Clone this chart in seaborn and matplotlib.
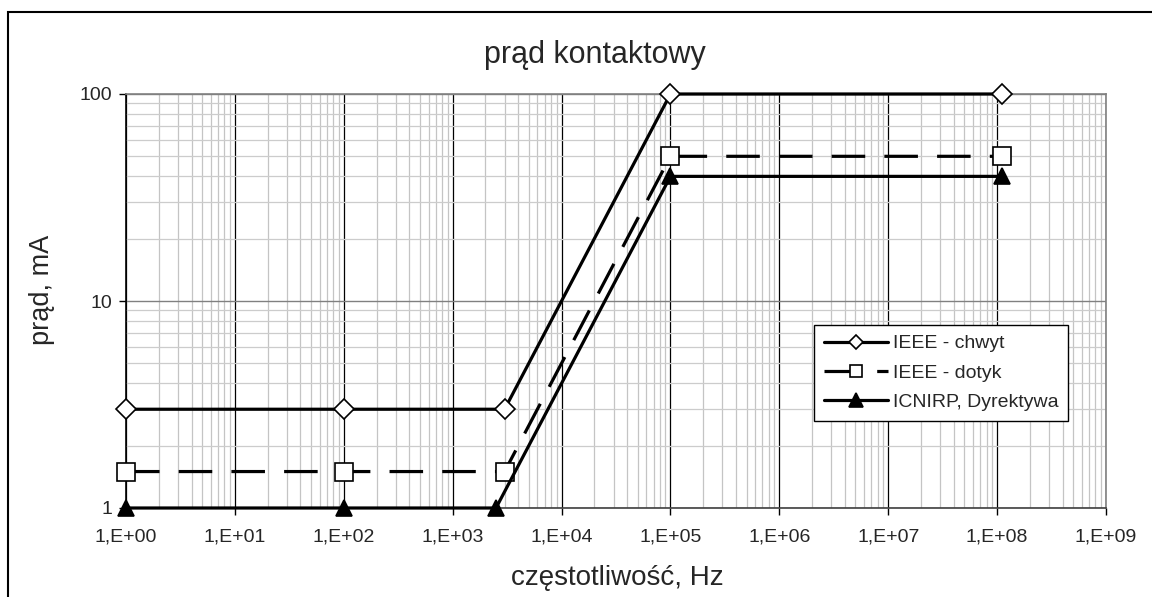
import matplotlib
matplotlib.use("Agg")
import matplotlib.pyplot as plt
import matplotlib.ticker as mticker
from matplotlib.patches import Rectangle
import pandas as pd
import seaborn as sns

# data
series_names = ["IEEE - chwyt", "IEEE - dotyk", "ICNIRP, Dyrektywa"]
freq_chwyt = [1, 100, 3000, 1e5, 1.1e8]
prad_chwyt = [3, 3, 3, 100, 100]
freq_dotyk = [1, 100, 3000, 1e5, 1.1e8]
prad_dotyk = [1.5, 1.5, 1.5, 50, 50]
freq_icnirp = [1, 100, 2500, 1e5, 1.1e8]
prad_icnirp = [1, 1, 1, 40, 40]

x_ticks = [10.0 ** k for k in range(0, 10)]
x_ticklabels = ["1,E+%02d" % k for k in range(0, 10)]
y_ticks = [1, 10, 100]
y_ticklabels = ["1", "10", "100"]

df = pd.concat([
    pd.DataFrame({"f": freq_chwyt, "I": prad_chwyt, "seria": series_names[0]}),
    pd.DataFrame({"f": freq_dotyk, "I": prad_dotyk, "seria": series_names[1]}),
    pd.DataFrame({"f": freq_icnirp, "I": prad_icnirp, "seria": series_names[2]}),
])

sns.set_style("white")
plt.rcParams["font.family"] = ["Liberation Sans", "DejaVu Sans"]

fig = plt.figure(figsize=(11.52, 5.97), dpi=100)
ax = fig.add_axes([126 / 1152, 1 - 508 / 597, (1106 - 126) / 1152, (508 - 94) / 597])

styles = {
    "IEEE - chwyt": dict(marker="D", markersize=10, markerfacecolor="white", linestyle="-"),
    "IEEE - dotyk": dict(marker="s", markersize=13, markerfacecolor="white", linestyle=(0, (10.5, 6))),
    "ICNIRP, Dyrektywa": dict(marker="^", markersize=11, markerfacecolor="black", linestyle="-"),
}
legend_marker_size = {"IEEE - chwyt": 7, "IEEE - dotyk": 8.5, "ICNIRP, Dyrektywa": 9.5}

for name in series_names:
    sub = df[df["seria"] == name]
    sns.lineplot(data=sub, x="f", y="I", ax=ax, color="black", linewidth=2.3,
                 markeredgecolor="black", markeredgewidth=1.2, label=name,
                 clip_on=False, zorder=5, **styles[name])

ax.set_xscale("log")
ax.set_yscale("log")
ax.set_xlim(1, 1e9)
ax.set_ylim(1, 100)

ax.set_xticks(x_ticks)
ax.set_xticklabels(x_ticklabels)
ax.set_yticks(y_ticks)
ax.set_yticklabels(y_ticklabels)
ax.xaxis.set_minor_locator(mticker.LogLocator(base=10, subs=range(2, 10), numticks=100))
ax.yaxis.set_minor_locator(mticker.LogLocator(base=10, subs=range(2, 10), numticks=100))
ax.xaxis.set_minor_formatter(mticker.NullFormatter())
ax.yaxis.set_minor_formatter(mticker.NullFormatter())

ax.tick_params(which="major", direction="out", length=5, width=1, color="black",
               labelsize=14, bottom=True, left=True)
ax.tick_params(axis="x", which="major", pad=10)
ax.tick_params(axis="y", which="major", pad=5)
ax.tick_params(which="minor", length=0)

ax.xaxis.grid(True, which="minor", color="#c4c4c4", linewidth=0.9)
ax.yaxis.grid(True, which="minor", color="#cccccc", linewidth=0.9)
ax.xaxis.grid(True, which="major", color="black", linewidth=0.9)
ax.yaxis.grid(True, which="major", color="#808080", linewidth=1.0)
ax.set_axisbelow(True)

for side in ["top", "right"]:
    ax.spines[side].set_color("#808080")
    ax.spines[side].set_linewidth(1.2)
ax.spines["left"].set_color("black")
ax.spines["bottom"].set_color("#404040")
ax.spines["left"].set_linewidth(1.2)
ax.spines["bottom"].set_linewidth(1.2)

ax.set_xlabel("")
ax.set_ylabel("")
fig.text(617 / 1152, 1 - 578 / 597, "częstotliwość, Hz", fontsize=20,
         ha="center", va="center")
fig.text(42 / 1152, 1 - 290 / 597, "prąd, mA", fontsize=19.5, rotation=90,
         ha="center", va="center")
fig.text(595 / 1152, 1 - 55 / 597, "prąd kontaktowy", fontsize=22,
         ha="center", va="center")

leg = ax.legend(loc="upper left", bbox_to_anchor=(814 / 1152, 1 - 325 / 597),
                bbox_transform=fig.transFigure, fontsize=14, frameon=True,
                fancybox=False, edgecolor="black", framealpha=1,
                handlelength=3.3, handletextpad=0.25, borderpad=0.5,
                labelspacing=0.6, borderaxespad=0)
leg.get_frame().set_linewidth(1.0)
leg.set_zorder(10)
for h, name in zip(leg.legend_handles, series_names):
    h.set_markersize(legend_marker_size[name])

# outer chart frame
fig.patches.append(Rectangle((8 / 1152, -0.1), 1.2, 1 - 12 / 597 + 0.1,
                             transform=fig.transFigure, fill=False,
                             edgecolor="black", linewidth=1.5))

fig.savefig("out.png", dpi=100)
